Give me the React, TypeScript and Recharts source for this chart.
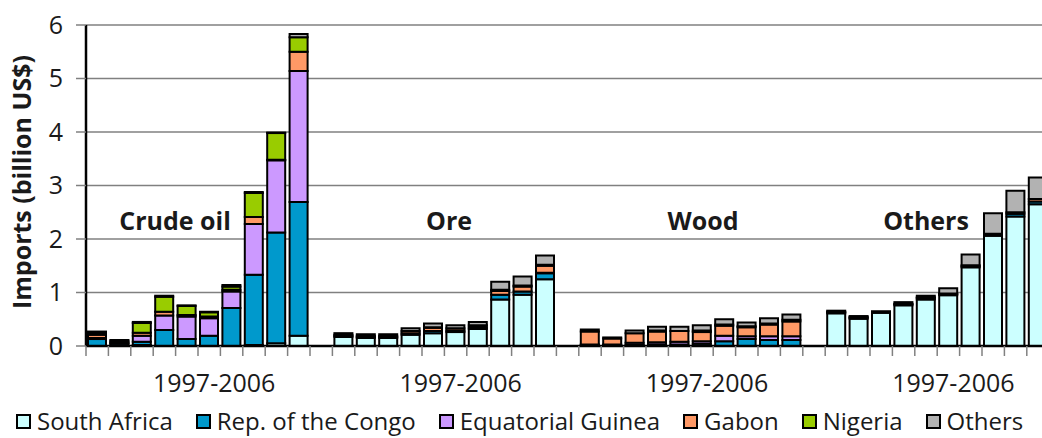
import { BarChart, Bar, XAxis, YAxis, CartesianGrid } from "recharts";

const GROUPS = ["Crude oil", "Ore", "Wood", "Others"];
const YEARS = ["1997", "1998", "1999", "2000", "2001", "2002", "2003", "2004", "2005", "2006"];
const PERIOD_LABEL = "1997-2006";
const Y_TICKS = [0, 1, 2, 3, 4, 5, 6];

// values per series: crude oil, ore, wood, others (10 years each)
const southAfrica = [
  0, 0, 0.02, 0, 0, 0, 0, 0.02, 0.05, 0.19,
  0.17, 0.15, 0.15, 0.21, 0.24, 0.26, 0.32, 0.87, 0.96, 1.25,
  0, 0, 0, 0, 0, 0, 0, 0, 0, 0,
  0.61, 0.51, 0.62, 0.76, 0.87, 0.95, 1.47, 2.06, 2.42, 2.65,
];
const congo = [
  0.13, 0.04, 0.06, 0.3, 0.13, 0.19, 0.71, 1.31, 2.07, 2.5,
  0.02, 0.02, 0.02, 0.03, 0.04, 0.03, 0.03, 0.09, 0.06, 0.11,
  0.02, 0.02, 0.02, 0.03, 0.03, 0.04, 0.09, 0.13, 0.11, 0.11,
  0.02, 0.02, 0, 0.02, 0.03, 0.02, 0.02, 0.02, 0.05, 0.05,
];
const eqGuinea = [
  0.02, 0.01, 0.11, 0.27, 0.42, 0.33, 0.31, 0.95, 1.35, 2.45,
  0, 0, 0, 0, 0, 0, 0, 0, 0, 0.01,
  0.01, 0.01, 0.04, 0.04, 0.05, 0.05, 0.1, 0.05, 0.07, 0.07,
  0, 0, 0, 0, 0, 0, 0, 0, 0, 0,
];
const gabon = [
  0.06, 0.02, 0.06, 0.07, 0.03, 0.03, 0.03, 0.13, 0.01, 0.36,
  0.02, 0.02, 0.02, 0.04, 0.06, 0.04, 0.04, 0.07, 0.09, 0.13,
  0.24, 0.11, 0.18, 0.2, 0.2, 0.17, 0.19, 0.17, 0.22, 0.28,
  0.01, 0.01, 0, 0.01, 0.01, 0.01, 0.02, 0.02, 0.03, 0.05,
];
const nigeria = [
  0.04, 0.03, 0.18, 0.28, 0.17, 0.08, 0.06, 0.45, 0.5, 0.27,
  0, 0, 0, 0, 0.01, 0, 0, 0.02, 0.02, 0.02,
  0, 0, 0, 0.02, 0, 0.03, 0.02, 0.02, 0.02, 0.03,
  0, 0, 0, 0, 0, 0, 0, 0, 0, 0,
];
const othersCountries = [
  0.02, 0.01, 0.02, 0.02, 0.01, 0.01, 0.03, 0.02, 0.01, 0.06,
  0.03, 0.03, 0.03, 0.05, 0.07, 0.06, 0.06, 0.15, 0.17, 0.17,
  0.04, 0.02, 0.05, 0.07, 0.08, 0.1, 0.1, 0.07, 0.1, 0.1,
  0.02, 0.02, 0.03, 0.03, 0.03, 0.1, 0.2, 0.38, 0.4, 0.4,
];

const SERIES = [
  { key: "sa", name: "South Africa", color: "#CCFFFF", values: southAfrica },
  { key: "congo", name: "Rep. of the Congo", color: "#0099CC", values: congo },
  { key: "eqg", name: "Equatorial Guinea", color: "#CC99FF", values: eqGuinea },
  { key: "gabon", name: "Gabon", color: "#FF9966", values: gabon },
  { key: "nigeria", name: "Nigeria", color: "#99CC00", values: nigeria },
  { key: "others", name: "Others", color: "#B2B2B2", values: othersCountries },
];

// one row per year, plus an empty row between groups
const rows: any[] = [];
GROUPS.forEach((g, gi) => {
  YEARS.forEach((y, yi) => {
    const row: any = { key: `${g} ${y}`, label: yi === 5 ? PERIOD_LABEL : "" };
    SERIES.forEach((s) => (row[s.key] = s.values[gi * YEARS.length + yi]));
    rows.push(row);
  });
  if (gi < GROUPS.length - 1) rows.push({ key: `gap ${g}`, label: "" });
});
const labelOf: Record<string, string> = {};
rows.forEach((r) => (labelOf[r.key] = r.label));

const W = 1060;
const AXIS_W = 86;
const M = { top: 25, right: 10.8, left: 0, bottom: 52 };
const BAND = (W - AXIS_W - M.left - M.right) / rows.length;
const FONT = "'Open Sans', sans-serif";

function XTick(props: any) {
  const { x, y, payload } = props;
  const label = labelOf[payload.value];
  return (
    <g>
      <line x1={x - BAND / 2} x2={x - BAND / 2} y1={y} y2={y + 10} stroke="#808080" strokeWidth={1.5} />
      {label && (
        <text x={x + 5} y={y + 46} textAnchor="middle" fontSize={25} fill="#1a1a1a" fontFamily={FONT}>
          {label}
        </text>
      )}
    </g>
  );
}

const groupLabelPos = [175, 449, 703, 926];

export default function App() {
  return (
    <div style={{ position: "absolute", left: 0, top: 0, width: 1042, height: 438, overflow: "hidden", background: "#fff", fontFamily: FONT }}>
      <BarChart width={W} height={438} data={rows} margin={M} barSize={18}>
        <CartesianGrid vertical={false} stroke="#808080" strokeWidth={1.5} />
        <XAxis
          dataKey="key"
          interval={0}
          tickLine={false}
          tickSize={0}
          tickMargin={0}
          axisLine={{ stroke: "#000", strokeWidth: 2.5 }}
          tick={<XTick />}
          height={40}
        />
        <YAxis
          width={AXIS_W}
          domain={[0, 6]}
          ticks={Y_TICKS}
          interval={0}
          tickSize={10}
          tickMargin={13}
          axisLine={{ stroke: "#000", strokeWidth: 2.5 }}
          tickLine={{ stroke: "#808080", strokeWidth: 1.5 }}
          tick={{ fontSize: 25, fill: "#1a1a1a", fontFamily: FONT }}
        />
        {SERIES.map((s) => (
          <Bar
            key={s.key}
            dataKey={s.key}
            name={s.name}
            stackId="a"
            fill={s.color}
            stroke="#000"
            strokeWidth={2}
            isAnimationActive={false}
          />
        ))}
      </BarChart>

      <div
        style={{
          position: "absolute",
          left: 21,
          top: 182,
          transform: "translate(-50%, -50%) rotate(-90deg)",
          whiteSpace: "nowrap",
          fontSize: 25,
          fontWeight: 700,
          color: "#1a1a1a",
        }}
      >
        Imports (billion US$)
      </div>

      {GROUPS.map((g, i) => (
        <div
          key={g}
          style={{
            position: "absolute",
            left: groupLabelPos[i],
            top: 220,
            transform: "translate(-50%, -50%)",
            whiteSpace: "nowrap",
            fontSize: 25,
            fontWeight: 700,
            color: "#1a1a1a",
          }}
        >
          {g}
        </div>
      ))}

      <div
        style={{
          position: "absolute",
          left: 16,
          top: 408,
          display: "flex",
          alignItems: "center",
          gap: 23,
          fontSize: 24,
          lineHeight: "26px",
          color: "#1a1a1a",
          whiteSpace: "nowrap",
        }}
      >
        {SERIES.map((s) => (
          <div key={s.key} style={{ display: "flex", alignItems: "center" }}>
            <span style={{ width: 11, height: 11, border: "2px solid #000", background: s.color, marginRight: 6, display: "inline-block" }} />
            <span>{s.name}</span>
          </div>
        ))}
      </div>
    </div>
  );
}
